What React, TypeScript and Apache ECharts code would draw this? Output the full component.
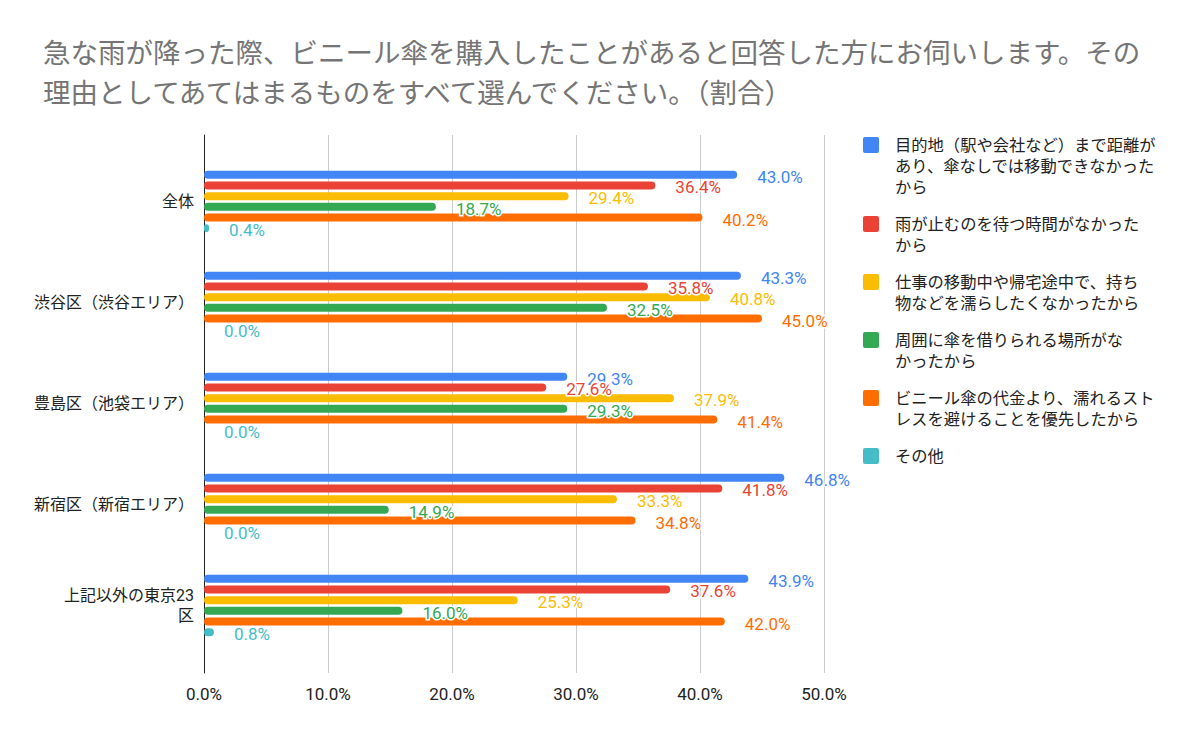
import React, { useEffect, useRef } from 'react';
import * as echarts from 'echarts';

const FONT = 'Roboto, "Noto Sans CJK JP", sans-serif';

const titleLines = [
  '急な雨が降った際、ビニール傘を購入したことがあると回答した方にお伺いします。その',
  '理由としてあてはまるものをすべて選んでください。（割合）',
];

const categories = ['全体', '渋谷区（渋谷エリア）', '豊島区（池袋エリア）', '新宿区（新宿エリア）', '上記以外の東京23区'];
const categoryLabels = ['全体', '渋谷区（渋谷エリア）', '豊島区（池袋エリア）', '新宿区（新宿エリア）', '上記以外の東京23\n区'];

const seriesNames = [
  '目的地（駅や会社など）まで距離があり、傘なしでは移動できなかったから',
  '雨が止むのを待つ時間がなかったから',
  '仕事の移動中や帰宅途中で、持ち物などを濡らしたくなかったから',
  '周囲に傘を借りられる場所がなかったから',
  'ビニール傘の代金より、濡れるストレスを避けることを優先したから',
  'その他',
];
const legendLines = [
  ['目的地（駅や会社など）まで距離が', 'あり、傘なしでは移動できなかった', 'から'],
  ['雨が止むのを待つ時間がなかった', 'から'],
  ['仕事の移動中や帰宅途中で、持ち', '物などを濡らしたくなかったから'],
  ['周囲に傘を借りられる場所がな', 'かったから'],
  ['ビニール傘の代金より、濡れるスト', 'レスを避けることを優先したから'],
  ['その他'],
];
const colors = ['#4285F4', '#EA4335', '#FBBC04', '#34A853', '#FF6D01', '#46BDC6'];

// percent per category, one array per series
const distance = [43.0, 43.3, 29.3, 46.8, 43.9];
const noTime = [36.4, 35.8, 27.6, 41.8, 37.6];
const belongings = [29.4, 40.8, 37.9, 33.3, 25.3];
const noLending = [18.7, 32.5, 29.3, 14.9, 16.0];
const stress = [40.2, 45.0, 41.4, 34.8, 42.0];
const other = [0.4, 0.0, 0.0, 0.0, 0.8];
const seriesValues = [distance, noTime, belongings, noLending, stress, other];

const xTicks = [0, 10, 20, 30, 40, 50];

function buildLegend() {
  const items: any[] = [];
  let y = 145;
  legendLines.forEach((lines, i) => {
    items.push({
      type: 'rect',
      shape: { x: 863, y: y - 8, width: 16, height: 16, r: 2 },
      style: { fill: colors[i] },
    });
    items.push({
      type: 'text',
      x: 895,
      y: y - 10.5,
      style: {
        text: lines.join('\n'),
        font: `16.3px ${FONT}`,
        fill: '#222',
        lineHeight: 21,
        verticalAlign: 'top',
      },
    });
    y += (lines.length - 1) * 21 + 37;
  });
  return items;
}

const App: React.FC = () => {
  const chartRef = useRef<HTMLDivElement>(null);

  useEffect(() => {
    const chart = echarts.init(chartRef.current!, undefined, { renderer: 'svg' });

    const options = {
      animation: false,
      title: {
        text: titleLines.join('\n'),
        left: 38,
        top: 28,
        textStyle: {
          fontFamily: FONT,
          fontSize: 27.5,
          fontWeight: 'normal',
          color: '#757575',
          lineHeight: 40,
        },
      },
      grid: [
        { left: 204, right: 376, top: 151, bottom: 86 },
        { left: 204, right: 376, top: 135, bottom: 69 },
      ],
      xAxis: [
        {
          gridIndex: 0,
          type: 'value',
          min: 0,
          max: 50,
          interval: 10,
          axisLine: { show: false },
          axisTick: { show: false },
          splitLine: { show: false },
          axisLabel: { show: false },
        },
        {
          gridIndex: 1,
          type: 'value',
          min: 0,
          max: 50,
          interval: 10,
          axisLine: { show: false },
          axisTick: { show: false },
          splitLine: { show: true, lineStyle: { color: '#cccccc', width: 1 } },
          axisLabel: {
            margin: 12,
            fontFamily: FONT,
            fontSize: 17,
            color: '#222',
            formatter: (v: number) => (xTicks.includes(v) ? v.toFixed(1) + '%' : ''),
          },
        },
      ],
      yAxis: [
        {
          gridIndex: 0,
          type: 'category',
          data: categories,
          inverse: true,
          axisLine: { show: false },
          axisTick: { show: false },
          axisLabel: {
            margin: 10,
            fontFamily: FONT,
            fontSize: 16,
            color: '#222',
            lineHeight: 20,
            formatter: (_v: string, idx: number) => categoryLabels[idx],
          },
        },
        {
          gridIndex: 1,
          type: 'value',
          min: 0,
          max: 1,
          axisLine: { show: true, lineStyle: { color: '#222', width: 1 } },
          axisTick: { show: false },
          axisLabel: { show: false },
          splitLine: { show: false },
        },
      ],
      graphic: buildLegend(),
      series: seriesNames.map((name, i) => ({
        name,
        type: 'bar',
        xAxisIndex: 0,
        yAxisIndex: 0,
        data: seriesValues[i],
        barWidth: 8,
        barGap: '34%',
        itemStyle: { color: colors[i], borderRadius: 4 },
        label: {
          show: true,
          position: 'right',
          distance: 20,
          offset: [0, 2],
          fontFamily: FONT,
          fontSize: 17,
          color: colors[i],
          textBorderColor: '#fff',
          textBorderWidth: 3,
          formatter: (p: any) => Number(p.value).toFixed(1) + '%',
        },
      })),
    };

    chart.setOption(options);

    return () => {
      chart.dispose();
    };
  }, []);

  return (
    <div
      ref={chartRef}
      style={{
        width: '1200px',
        height: '742px',
        margin: '-8px',
        background: '#fff',
      }}
    />
  );
};

export default App;
